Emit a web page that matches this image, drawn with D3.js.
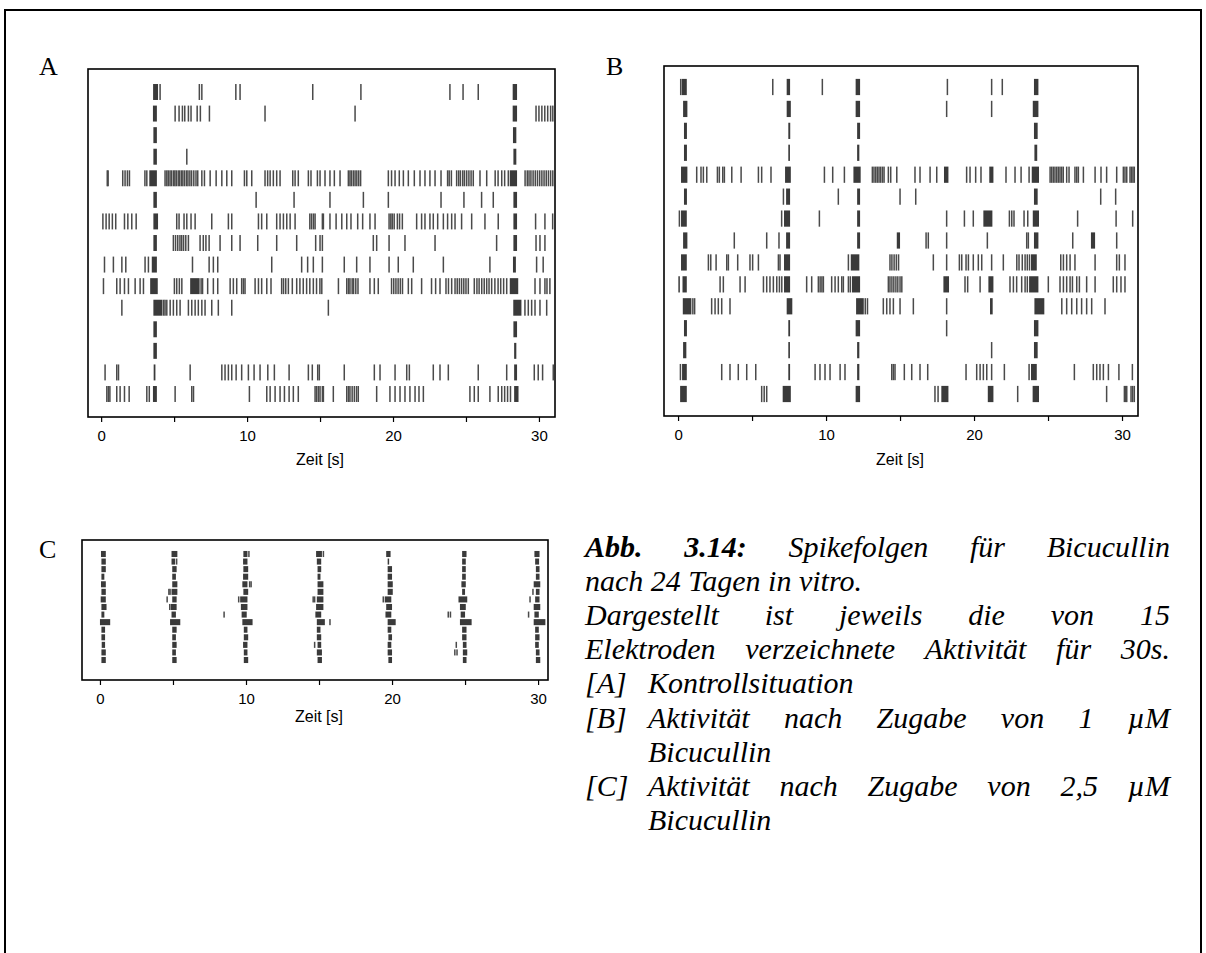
<!DOCTYPE html>
<html>
<head>
<meta charset="utf-8">
<script src="https://cdn.jsdelivr.net/npm/d3@7/dist/d3.min.js"></script>
<style>
  html, body { margin: 0; padding: 0; background: #fff; }
  svg { display: block; }
</style>
</head>
<body>
<script>
// Spike trains of 15 electrodes over 30 s, three conditions (A, B, C).
// Each row: single spike times [s] and burst intervals [start, end] in s.

const electrodes = d3.range(1, 16);
const tickValues = [0, 5, 10, 15, 20, 25, 30];
const tickLabels = ["0", "", "10", "", "20", "", "30"];
const axisTitle = "Zeit [s]";
const panelNames = ["A", "B", "C"];

// ---- A: Kontrollsituation ----
const spikesA = [
  [4.04, 6.73, 6.9, 9.23, 9.52, 14.5, 17.8, 23.9, 24.8, 25.84],
  [5.07, 5.34, 5.57, 5.73, 5.98, 6.16, 6.58, 6.8, 7.42, 11.23, 17.4, 29.8, 30.0, 30.2, 30.4, 30.6, 30.8, 30.95],
  [],
  [5.87],
  [0.42, 0.48, 1.48, 1.64, 1.8, 1.94, 3.0, 3.13, 4.38, 4.5, 4.6, 4.72, 4.82, 4.95, 5.05, 5.15, 5.28, 5.38, 5.5, 5.6, 5.72, 5.85, 5.95, 6.08, 6.2, 6.35, 6.5, 6.62, 6.9, 7.08, 7.47, 7.88, 8.27, 8.61, 8.95, 9.82, 9.98, 10.32, 11.23, 11.41, 11.58, 11.8, 12.03, 12.26, 13.13, 13.29, 13.51, 14.2, 14.38, 14.82, 15.0, 15.34, 15.68, 15.98, 16.37, 16.94, 17.05, 17.15, 17.28, 17.4, 17.52, 17.65, 17.78, 19.68, 19.9, 20.14, 20.43, 20.71, 21.05, 21.46, 21.85, 22.19, 22.53, 22.88, 23.29, 23.74, 23.85, 24.0, 24.36, 24.5, 24.62, 24.78, 24.9, 25.05, 25.2, 25.35, 25.5, 25.96, 26.42, 27.0, 27.2, 27.45, 27.65, 27.9, 29.05, 29.2, 29.32, 29.45, 29.6, 29.75, 29.9, 30.05, 30.2, 30.35, 30.5, 30.65, 30.8, 30.95],
  [10.62, 13.22, 15.68, 17.97, 19.68, 23.29, 24.86, 26.07, 26.87],
  [0.12, 0.34, 0.55, 0.77, 1.0, 1.6, 1.83, 2.1, 2.4, 5.18, 5.34, 5.68, 5.87, 6.16, 6.44, 7.58, 8.72, 8.95, 10.78, 11.0, 11.35, 12.03, 12.26, 12.49, 12.72, 12.95, 13.29, 14.3, 14.42, 14.55, 14.66, 15.16, 15.23, 15.68, 16.1, 16.49, 16.83, 17.12, 17.58, 17.92, 18.42, 18.77, 19.73, 19.85, 19.95, 20.08, 20.3, 20.45, 20.64, 21.62, 21.96, 22.19, 22.53, 22.76, 23.06, 23.45, 23.74, 24.02, 24.25, 24.7, 25.39, 26.3, 27.21, 29.77, 30.41, 30.94],
  [4.95, 5.1, 5.25, 5.4, 5.52, 5.65, 5.8, 5.98, 6.78, 7.0, 7.18, 7.4, 8.15, 8.95, 9.52, 10.73, 12.03, 13.4, 14.7, 15.0, 15.16, 18.65, 18.88, 19.73, 20.82, 22.88, 27.1, 29.8, 30.07, 30.41],
  [0.23, 0.84, 1.42, 1.69, 3.01, 3.24, 6.26, 7.4, 7.69, 7.99, 11.69, 13.74, 14.15, 14.54, 15.16, 16.66, 17.51, 18.42, 19.73, 20.36, 21.39, 23.45, 26.64, 29.84, 30.29],
  [0.16, 1.07, 1.3, 1.6, 1.87, 2.33, 2.67, 2.9, 5.02, 5.18, 5.36, 5.53, 6.85, 6.95, 7.3, 7.69, 7.99, 8.84, 9.06, 9.29, 9.63, 9.75, 9.86, 10.55, 10.78, 11.0, 11.35, 11.64, 12.37, 12.5, 12.65, 12.83, 13.1, 13.4, 13.62, 13.85, 14.08, 14.3, 14.54, 14.76, 14.99, 15.12, 16.26, 16.83, 16.95, 17.05, 17.2, 17.3, 17.45, 17.6, 18.42, 18.72, 18.99, 19.9, 20.05, 20.2, 20.35, 20.5, 20.65, 21.05, 21.28, 21.96, 22.64, 22.92, 23.22, 23.63, 23.8, 24.02, 24.25, 24.4, 24.55, 24.7, 24.85, 25.0, 25.16, 25.57, 25.75, 25.9, 26.08, 26.25, 26.42, 26.58, 26.76, 26.98, 27.2, 27.38, 27.58, 27.79, 29.73, 30.07, 30.41, 30.55, 30.75],
  [1.42, 4.28, 4.38, 4.5, 4.73, 4.95, 5.18, 5.41, 5.98, 6.21, 6.44, 6.66, 6.9, 7.12, 7.58, 8.03, 8.95, 15.57, 29.04, 29.27, 29.5, 29.73, 30.07, 30.53],
  [],
  [],
  [0.27, 1.07, 1.19, 6.1, 8.27, 8.49, 8.72, 8.95, 9.25, 9.63, 10.09, 10.48, 10.89, 11.42, 11.87, 12.88, 14.2, 14.47, 14.84, 14.95, 16.66, 18.72, 19.11, 20.14, 20.94, 21.12, 22.76, 23.22, 23.79, 25.84, 27.79, 29.68, 29.95, 30.25, 30.98],
  [0.39, 0.5, 0.6, 1.07, 1.3, 1.6, 1.92, 3.13, 3.3, 5.07, 6.21, 6.33, 10.16, 11.35, 11.58, 11.92, 12.26, 12.56, 12.88, 13.17, 13.51, 14.66, 14.77, 14.89, 15.0, 15.16, 15.23, 15.91, 16.83, 16.95, 17.05, 17.2, 17.35, 17.5, 17.62, 18.88, 19.79, 20.14, 20.48, 20.82, 21.16, 21.51, 21.78, 22.08, 25.27, 25.57, 25.84, 26.64, 27.21, 27.45, 27.65, 27.85, 28.05]
];
const burstsA = [
  [[3.56, 3.9], [28.2, 28.5]],
  [[3.55, 3.82], [28.2, 28.5]],
  [[3.58, 3.82], [28.22, 28.45]],
  [[3.58, 3.82], [28.25, 28.45]],
  [[3.3, 3.82], [28.0, 28.5]],
  [[3.58, 3.82], [28.25, 28.5]],
  [[3.58, 3.9], [28.25, 28.5]],
  [[3.58, 3.82], [28.25, 28.5]],
  [[3.47, 3.82], [28.22, 28.42]],
  [[3.36, 3.88], [6.1, 6.75], [28.0, 28.58]],
  [[3.58, 4.2], [28.24, 28.8]],
  [[3.58, 3.82], [28.25, 28.5]],
  [[3.58, 3.82], [28.3, 28.45]],
  [[3.6, 3.72], [28.3, 28.5]],
  [[3.55, 3.82], [28.3, 28.6]]
];

// ---- B: 1 µM Bicucullin ----
const spikesB = [
  [0.18, 6.4, 9.75, 18.2, 21.19, 21.91],
  [18.15, 21.19],
  [],
  [],
  [1.26, 1.55, 1.71, 1.94, 2.66, 2.79, 3.02, 3.13, 3.63, 4.26, 5.43, 5.65, 6.28, 9.89, 10.45, 11.24, 13.13, 13.24, 13.36, 13.47, 13.58, 13.69, 13.81, 13.92, 14.21, 14.37, 14.78, 16.01, 16.35, 17.03, 17.48, 19.5, 19.73, 20.11, 20.47, 22.16, 22.77, 23.18, 23.72, 25.14, 25.25, 25.36, 25.47, 25.59, 25.7, 25.81, 25.92, 26.03, 26.26, 26.42, 26.82, 26.94, 27.05, 27.39, 28.18, 28.58, 28.96, 29.64, 30.09, 30.2, 30.32, 30.54, 30.64, 30.74, 30.83],
  [7.12, 10.83, 15.0, 16.06, 28.56, 29.57],
  [0.09, 7.0, 9.55, 18.15, 19.35, 19.95, 22.39, 22.55, 22.7, 23.38, 23.63, 27.0, 29.6, 30.72],
  [3.8, 5.99, 6.82, 16.76, 16.91, 18.15, 20.9, 23.56, 23.67, 26.67, 29.64],
  [2.05, 2.21, 2.57, 3.29, 3.4, 4.03, 4.86, 5.04, 5.43, 6.78, 6.89, 11.51, 14.32, 14.45, 14.6, 14.75, 14.9, 17.25, 18.15, 19.01, 19.17, 19.46, 19.62, 19.95, 20.29, 20.52, 21.19, 21.98, 22.89, 23.04, 23.26, 23.45, 23.6, 23.75, 25.86, 26.04, 26.26, 26.49, 26.82, 28.18, 29.64, 29.82, 30.2],
  [2.84, 3.06, 4.19, 4.53, 5.77, 5.99, 6.21, 6.44, 6.67, 6.85, 7.01, 8.69, 9.03, 9.48, 9.6, 9.72, 9.82, 10.38, 10.61, 10.83, 11.06, 11.17, 11.51, 11.64, 14.21, 14.32, 14.45, 14.58, 14.72, 14.85, 15.0, 15.12, 19.39, 19.57, 20.41, 22.43, 22.66, 22.88, 23.22, 23.45, 23.6, 25.02, 25.81, 26.04, 26.26, 26.49, 26.65, 26.94, 27.12, 27.61, 28.18, 29.41, 29.64, 29.93, 30.2],
  [1.0, 1.12, 2.27, 2.5, 2.72, 2.95, 3.51, 12.65, 12.8, 13.87, 14.1, 14.32, 14.55, 15.0, 15.9, 18.15, 25.93, 26.26, 26.6, 26.94, 27.27, 27.61, 27.95, 28.85],
  [18.15],
  [21.19],
  [0.16, 2.95, 3.51, 4.07, 4.64, 5.25, 9.26, 9.59, 9.93, 10.27, 10.95, 11.28, 14.44, 14.55, 14.66, 15.29, 15.79, 16.35, 16.87, 19.46, 20.18, 20.41, 20.63, 20.86, 21.19, 22.05, 23.72, 26.78, 28.06, 28.29, 28.51, 28.74, 29.08, 29.79, 30.7],
  [5.65, 5.82, 5.99, 17.36, 17.57, 22.95, 28.96, 30.16, 30.25, 30.32, 30.61, 30.72, 30.83]
];
const burstsB = [
  [[0.25, 0.59], [7.34, 7.57], [12.0, 12.3], [24.05, 24.35]],
  [[0.34, 0.63], [7.34, 7.62], [12.0, 12.3], [23.97, 24.35]],
  [[0.4, 0.6], [7.45, 7.58], [12.1, 12.3], [24.05, 24.3]],
  [[0.4, 0.6], [7.45, 7.56], [12.1, 12.25], [24.08, 24.27]],
  [[0.2, 0.63], [7.23, 7.62], [11.85, 12.34], [17.97, 18.27], [21.03, 21.31], [23.9, 24.39]],
  [[0.4, 0.6], [7.3, 7.57], [12.1, 12.3], [24.05, 24.3]],
  [[0.2, 0.59], [7.16, 7.57], [12.1, 12.3], [20.63, 21.24], [23.97, 24.39]],
  [[0.34, 0.63], [7.3, 7.57], [12.1, 12.3], [14.78, 15.0], [24.05, 24.35], [27.9, 28.18]],
  [[0.2, 0.59], [7.16, 7.57], [11.67, 12.25], [23.85, 24.24]],
  [[0.02, 0.1], [0.3, 0.59], [7.16, 7.57], [11.75, 12.3], [17.93, 18.31], [20.97, 21.31], [23.72, 24.35]],
  [[0.32, 0.9], [7.34, 7.72], [12.03, 12.55], [21.08, 21.26], [24.08, 24.75]],
  [[0.4, 0.6], [7.45, 7.57], [12.0, 12.3], [24.05, 24.35]],
  [[0.34, 0.56], [7.45, 7.56], [12.1, 12.25], [24.05, 24.3]],
  [[0.27, 0.59], [7.45, 7.57], [12.1, 12.25], [23.85, 24.24]],
  [[0.14, 0.59], [7.07, 7.62], [12.0, 12.3], [17.79, 18.27], [20.93, 21.31], [23.96, 24.39]]
];

// ---- C: 2,5 µM Bicucullin ----
const spikesC = [
  [10.2, 15.3],
  [5.25],
  [],
  [],
  [10.25, 10.35],
  [4.72, 4.8, 29.65],
  [4.6, 9.5, 14.6, 14.7, 19.4, 29.45],
  [4.78],
  [8.5, 23.85, 24.0, 29.35],
  [15.75],
  [],
  [],
  [14.7, 24.4],
  [24.3, 24.45],
  []
];
const burstsC = [
  [[0.07, 0.4], [4.9, 5.3], [9.82, 10.1], [14.8, 15.2], [19.6, 19.9], [24.8, 25.1], [29.75, 30.1]],
  [[0.1, 0.4], [4.9, 5.15], [9.8, 10.1], [14.85, 15.15], [19.7, 19.8], [24.8, 25.05], [29.8, 30.07]],
  [[0.1, 0.4], [4.95, 5.25], [9.82, 10.15], [14.9, 15.15], [19.7, 20.0], [24.8, 25.05], [29.85, 30.1]],
  [[0.1, 0.3], [4.95, 5.2], [9.8, 10.15], [14.9, 15.1], [19.7, 20.0], [24.8, 25.05], [29.85, 30.1]],
  [[0.07, 0.4], [4.95, 5.3], [9.75, 10.1], [14.9, 15.3], [19.7, 20.05], [24.75, 25.05], [29.7, 30.15]],
  [[0.1, 0.4], [4.9, 5.3], [9.82, 10.15], [14.9, 15.3], [19.7, 20.05], [24.8, 25.0], [29.85, 30.1]],
  [[0.05, 0.4], [4.95, 5.25], [9.6, 10.1], [14.85, 15.3], [19.5, 19.95], [24.55, 25.15], [29.8, 30.1]],
  [[0.1, 0.45], [4.85, 5.25], [9.65, 10.1], [14.8, 15.3], [19.6, 20.0], [24.65, 25.05], [29.7, 30.15]],
  [[0.1, 0.3], [4.9, 5.2], [9.7, 10.05], [14.75, 15.15], [19.55, 19.95], [24.7, 25.0], [29.75, 30.05]],
  [[0.0, 0.7], [4.8, 5.5], [9.75, 10.45], [14.85, 15.4], [19.7, 20.25], [24.65, 25.45], [29.7, 30.5]],
  [[0.1, 0.35], [4.95, 5.25], [9.85, 10.1], [14.85, 15.1], [19.7, 19.95], [24.8, 25.1], [29.8, 30.05]],
  [[0.1, 0.35], [4.95, 5.2], [9.85, 10.15], [14.85, 15.15], [19.75, 20.0], [24.8, 25.1], [29.8, 30.1]],
  [[0.12, 0.35], [4.95, 5.25], [9.8, 10.1], [14.9, 15.15], [19.7, 19.95], [24.85, 25.1], [29.8, 30.05]],
  [[0.1, 0.4], [4.95, 5.2], [9.85, 10.1], [14.85, 15.2], [19.7, 20.0], [24.85, 25.15], [29.85, 30.1]],
  [[0.1, 0.4], [4.95, 5.25], [9.85, 10.15], [14.9, 15.2], [19.75, 20.0], [24.85, 25.1], [29.85, 30.15]]
];

// Caption text
const captionHead = ["Abb.", "3.14:"];
const captionLines = [
  { bold: captionHead, words: ["Spikefolgen", "für", "Bicucullin"], justify: true },
  { words: ["nach", "24", "Tagen", "in", "vitro."], justify: false },
  { words: ["Dargestellt", "ist", "jeweils", "die", "von", "15"], justify: true },
  { words: ["Elektroden", "verzeichnete", "Aktivität", "für", "30s."], justify: true },
  { tag: "[A]", words: ["Kontrollsituation"], justify: false },
  { tag: "[B]", words: ["Aktivität", "nach", "Zugabe", "von", "1", "µM"], justify: true },
  { indent: true, words: ["Bicucullin"], justify: false },
  { tag: "[C]", words: ["Aktivität", "nach", "Zugabe", "von", "2,5", "µM"], justify: true },
  { indent: true, words: ["Bicucullin"], justify: false }
];

// ---------------- drawing ----------------
const W = 1206, H = 953;
const svg = d3.select("body").append("svg").attr("width", W).attr("height", H);
svg.append("rect").attr("width", W).attr("height", H).attr("fill", "#fff");

// outer figure box (open at the bottom)
svg.append("path")
  .attr("d", "M5,953 L5,10 L1201,10 L1201,953")
  .attr("fill", "none").attr("stroke", "#000").attr("stroke-width", 2);

const spikeColor = "#4a4a4a";
const burstColor = "#3a3a3a";

function drawPanel(cfg, spikes, bursts) {
  const g = svg.append("g");
  const x = d3.scaleLinear().domain(cfg.domain).range([cfg.x0, cfg.x1]);
  const y = d3.scalePoint().domain(electrodes).range([cfg.r0, cfg.r1]);
  const h = y.step() * cfg.fill;

  spikes.forEach((row, i) => {
    g.selectAll(null).data(row).enter().append("rect")
      .attr("x", d => x(d) - 0.75)
      .attr("y", y(electrodes[i]) - h / 2)
      .attr("width", 1.5)
      .attr("height", h)
      .attr("fill", spikeColor);
  });
  bursts.forEach((row, i) => {
    g.selectAll(null).data(row).enter().append("rect")
      .attr("x", d => x(d[0]))
      .attr("y", y(electrodes[i]) - h / 2)
      .attr("width", d => Math.max(1.5, x(d[1]) - x(d[0])))
      .attr("height", h)
      .attr("fill", burstColor);
  });

  g.append("rect")
    .attr("x", cfg.x0).attr("y", cfg.y0)
    .attr("width", cfg.x1 - cfg.x0).attr("height", cfg.y1 - cfg.y0)
    .attr("fill", "none").attr("stroke", "#000").attr("stroke-width", 1.6);

  const axis = d3.axisBottom(x)
    .tickValues(tickValues)
    .tickSize(5)
    .tickPadding(8)
    .tickFormat((d, i) => tickLabels[i]);
  const ax = g.append("g").attr("transform", `translate(0,${cfg.y1})`).call(axis);
  ax.select(".domain").remove();
  ax.selectAll("line").attr("stroke", "#000").attr("stroke-width", 1.2);
  ax.selectAll("text")
    .attr("font-family", "Liberation Sans, Arial, sans-serif")
    .attr("font-size", 15).attr("fill", "#000");

  g.append("text")
    .attr("x", (x(0) + x(30)) / 2)
    .attr("y", cfg.y1 + cfg.titleOffset)
    .attr("text-anchor", "middle")
    .attr("font-family", "Liberation Sans, Arial, sans-serif")
    .attr("font-size", 16)
    .text(axisTitle);

  svg.append("text")
    .attr("x", cfg.labelX).attr("y", cfg.labelY)
    .attr("font-family", "Liberation Serif, Times New Roman, serif")
    .attr("font-size", 26)
    .text(cfg.name);
}

drawPanel({ name: panelNames[0], x0: 88, x1: 555, y0: 69, y1: 417, domain: [-0.9, 31.1],
            r0: 92, r1: 394, fill: 0.74, titleOffset: 48, labelX: 39, labelY: 75 }, spikesA, burstsA);
drawPanel({ name: panelNames[1], x0: 664, x1: 1138, y0: 66, y1: 416, domain: [-0.95, 31.08],
            r0: 87, r1: 394, fill: 0.74, titleOffset: 49, labelX: 606, labelY: 75 }, spikesB, burstsB);
drawPanel({ name: panelNames[2], x0: 82, x1: 548, y0: 540, y1: 680, domain: [-1.23, 30.68],
            r0: 554, r1: 660, fill: 0.8, titleOffset: 42, labelX: 39, labelY: 558 }, spikesC, burstsC);

// ---------------- caption ----------------
const cap = svg.append("g")
  .attr("font-family", "Liberation Serif, Times New Roman, serif")
  .attr("font-size", 30)
  .attr("font-style", "italic");
const capX = 585, capRight = 1170, indentX = 648, lineY0 = 557, lineStep = 34.1;

function word(txt, xPos, yPos, bold) {
  const t = cap.append("text").attr("x", xPos).attr("y", yPos).text(txt);
  if (bold) t.attr("font-weight", "bold");
  return t;
}

captionLines.forEach((ln, i) => {
  const yPos = lineY0 + i * lineStep;
  let start = capX;
  if (ln.tag) { word(ln.tag, capX, yPos, false); start = indentX; }
  if (ln.indent) start = indentX;
  const items = [];
  (ln.bold || []).forEach(w => items.push(word(w, 0, yPos, true)));
  ln.words.forEach(w => items.push(word(w, 0, yPos, false)));
  const widths = items.map(t => t.node().getComputedTextLength());
  const total = d3.sum(widths);
  const space = 7.5;
  const gap = ln.justify && items.length > 1 ? (capRight - start - total) / (items.length - 1) : space;
  let cx = start;
  items.forEach((t, k) => { t.attr("x", cx); cx += widths[k] + gap; });
});
</script>
</body>
</html>
